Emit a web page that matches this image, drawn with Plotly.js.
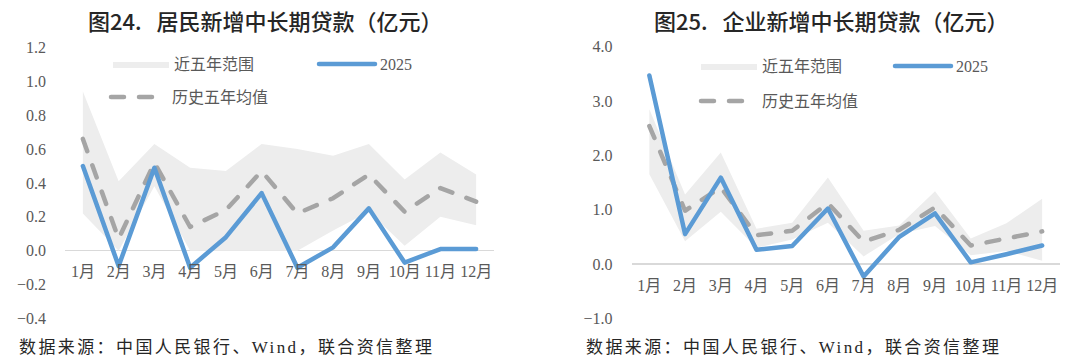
<!DOCTYPE html>
<html><head><meta charset="utf-8">
<script src="https://cdn.plot.ly/plotly-3.0.1.min.js"></script>
<style>
html,body{margin:0;padding:0;background:#fff;}
#chart{width:1080px;height:362px;}
path.js-line{stroke-linecap:round;stroke-linejoin:round;}
</style>
</head><body><div id="chart"></div>
<script>
const months = ['1月','2月','3月','4月','5月','6月','7月','8月','9月','10月','11月','12月'];

// 图24 居民新增中长期贷款
const resRangeLow  = [0.22, 0.00, 0.38, 0.00, 0.00, 0.00, 0.00, 0.12, 0.23, 0.03, 0.20, 0.15];
const resRangeHigh = [0.94, 0.41, 0.63, 0.49, 0.47, 0.63, 0.60, 0.56, 0.63, 0.42, 0.58, 0.45];
const res2025      = [0.50, -0.09, 0.49, -0.10, 0.08, 0.34, -0.10, 0.02, 0.25, -0.07, 0.01, 0.01];
const resAvg       = [0.66, 0.07, 0.52, 0.14, 0.24, 0.47, 0.22, 0.31, 0.45, 0.23, 0.37, 0.29];

// 图25 企业新增中长期贷款
const corpRangeLow  = [1.65, 0.42, 0.96, 0.30, 0.45, 0.76, 0.14, 0.55, 0.70, 0.16, 0.24, 0.06];
const corpRangeHigh = [2.85, 1.28, 2.05, 0.65, 0.76, 1.59, 0.61, 0.71, 1.34, 0.47, 0.75, 1.20];
const corp2025      = [3.47, 0.55, 1.59, 0.26, 0.33, 1.02, -0.23, 0.50, 0.93, 0.03, 0.18, 0.34];
const corpAvg       = [2.54, 0.98, 1.41, 0.53, 0.61, 1.12, 0.41, 0.63, 1.04, 0.34, 0.47, 0.60];

const seriesNames = {range:'近五年范围', cur:'2025', avg:'历史五年均值'};
const titleLeft = '图24.\u00a0\u00a0\u00a0居民新增中长期贷款（亿元）';
const titleRight = '图25.\u00a0\u00a0\u00a0企业新增中长期贷款（亿元）';
const sourceText = '数据来源：中国人民银行、Wind，联合资信整理';

const W = 1080, H = 362;
const fx = px => px / W;
const fy = py => (H - py) / H;

const serif = "'Liberation Serif','Noto Sans CJK SC',serif";
const cjk = "'Noto Sans CJK SC','Liberation Sans',sans-serif";
const tickFont = {family: serif, size: 16, color: '#595959'};
const legendFont = {family: serif, size: 16, color: '#595959'};

function makeTraces(low, high, cur, avg, xa, ya, lgRange, lgCur, lgAvg) {
  return [
    {x: months, y: low, xaxis: xa, yaxis: ya, type: 'scatter', mode: 'lines',
     line: {width: 0, color: 'rgba(0,0,0,0)'}, showlegend: false, hoverinfo: 'skip'},
    {x: months, y: high, xaxis: xa, yaxis: ya, type: 'scatter', mode: 'lines',
     fill: 'tonexty', fillcolor: '#ededed', line: {width: 0, color: '#ededed'},
     name: seriesNames.range, legend: lgRange},
    {x: months, y: avg, xaxis: xa, yaxis: ya, type: 'scatter', mode: 'lines',
     line: {color: '#a5a5a5', width: 4.5, dash: '13px,15px'},
     name: seriesNames.avg, legend: lgAvg},
    {x: months, y: cur, xaxis: xa, yaxis: ya, type: 'scatter', mode: 'lines',
     line: {color: '#5b9bd5', width: 4.5},
     name: seriesNames.cur, legend: lgCur}
  ];
}

const data = [].concat(
  makeTraces(resRangeLow, resRangeHigh, res2025, resAvg, 'x', 'y', 'legend', 'legend2', 'legend3'),
  makeTraces(corpRangeLow, corpRangeHigh, corp2025, corpAvg, 'x2', 'y2', 'legend4', 'legend5', 'legend6')
);

function xAxis(d0, d1, pos) {
  return {domain: [fx(d0), fx(d1)], anchor: 'free', position: fy(pos), type: 'category',
    range: [-0.5, 11.5], showline: false, showgrid: false, zeroline: false, ticks: '', tickangle: 0,
    tickfont: tickFont, ticklabelstandoff: 9, fixedrange: true, automargin: false};
}
function yAxis(d0, d1, anchor, range, dtick) {
  return {domain: [fy(d1), fy(d0)], anchor: anchor, range: range, dtick: dtick, tick0: 0,
    tickformat: '.1f', showgrid: false, zeroline: true, zerolinecolor: '#d9d9d9', zerolinewidth: 1.5,
    showline: false, ticks: '', tickfont: tickFont, ticklabelstandoff: 18, fixedrange: true, automargin: false};
}
function legendAt(swatchX, py) {
  return {x: fx(swatchX - 6), y: fy(py), xref: 'paper', yref: 'paper', xanchor: 'left', yanchor: 'middle',
    orientation: 'h', itemwidth: 56,
    font: legendFont, bgcolor: 'rgba(0,0,0,0)', borderwidth: 0, traceorder: 'normal'};
}

const titleFont = {family: cjk, size: 22, color: '#262626', weight: 500};
const sourceFont = {family: serif, size: 17, color: '#262626'};

const layout = {
  width: W, height: H, margin: {l: 0, r: 0, t: 0, b: 0, autoexpand: false},
  paper_bgcolor: '#ffffff', plot_bgcolor: 'rgba(0,0,0,0)',
  showlegend: true, hovermode: false,
  xaxis: xAxis(65, 494, 250.7),
  yaxis: yAxis(47.4, 318.5, 'x', [-0.4, 1.2], 0.2),
  xaxis2: xAxis(631.5, 1060, 264.7),
  yaxis2: yAxis(46.7, 318.3, 'x2', [-1, 4], 1),
  legend: legendAt(114, 64),
  legend2: legendAt(320, 64),
  legend3: legendAt(112, 97),
  legend4: legendAt(702, 66),
  legend5: legendAt(896, 66),
  legend6: legendAt(702, 101),
  annotations: [
    {text: titleLeft, xref: 'paper', yref: 'paper', x: fx(265), y: fy(20), xanchor: 'center', yanchor: 'middle',
     showarrow: false, font: titleFont},
    {text: titleRight, xref: 'paper', yref: 'paper', x: fx(831), y: fy(20), xanchor: 'center', yanchor: 'middle',
     showarrow: false, font: titleFont},
    {text: sourceText, xref: 'paper', yref: 'paper', x: fx(17), y: fy(347), xanchor: 'left', yanchor: 'middle',
     showarrow: false, font: sourceFont},
    {text: sourceText, xref: 'paper', yref: 'paper', x: fx(584), y: fy(347), xanchor: 'left', yanchor: 'middle',
     showarrow: false, font: sourceFont}
  ]
};

Plotly.newPlot('chart', data, layout, {displayModeBar: false, staticPlot: true}).then(function (gd) {
  // widen the character pitch of the source notes, keeping their left edge fixed
  gd.querySelectorAll('.annotation-text').forEach(function (t) {
    if (t.textContent.indexOf('数据来源') === 0) {
      var bb = t.getBBox();
      t.setAttribute('text-anchor', 'start');
      t.setAttribute('x', bb.x);
      t.style.letterSpacing = '2.4px';
    }
  });
});
</script>
</body></html>
